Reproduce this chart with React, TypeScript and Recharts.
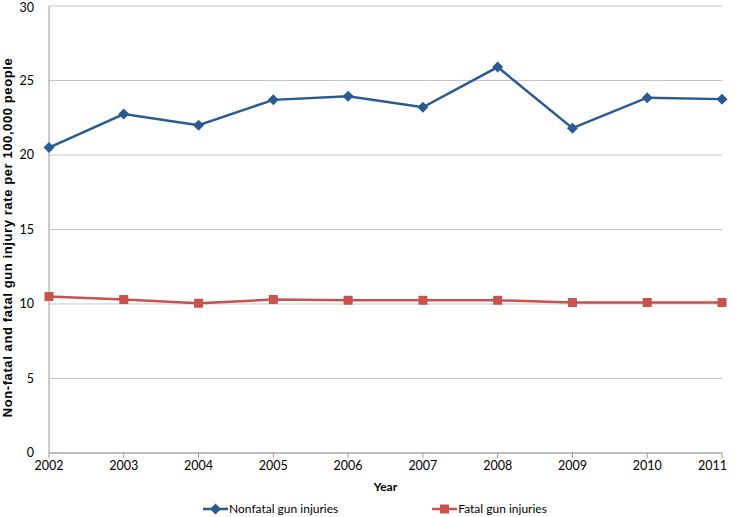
import { LineChart, Line, XAxis, YAxis, CartesianGrid, Legend } from "recharts";

const years = ["2002", "2003", "2004", "2005", "2006", "2007", "2008", "2009", "2010", "2011"];
const nonfatal = [20.5, 22.75, 22.0, 23.7, 23.95, 23.2, 25.9, 21.8, 23.85, 23.75];
const fatal = [10.5, 10.3, 10.05, 10.3, 10.25, 10.25, 10.25, 10.1, 10.1, 10.1];
const yTicks = [0, 5, 10, 15, 20, 25, 30];

const data = years.map((year, i) => ({ year, nonfatal: nonfatal[i], fatal: fatal[i] }));

const BLUE = "#2B5A90";
const RED = "#C9524F";
const FONT = "Lato, 'Liberation Sans', sans-serif";

const Diamond = (props: any) => {
  const { cx, cy, index } = props;
  if (cx == null || cy == null) return null;
  const r = 5.5;
  return (
    <polygon
      key={`d-${index}`}
      points={`${cx},${cy - r} ${cx + r},${cy} ${cx},${cy + r} ${cx - r},${cy}`}
      fill={BLUE}
    />
  );
};

const Square = (props: any) => {
  const { cx, cy, index } = props;
  if (cx == null || cy == null) return null;
  const s = 4.5;
  return <rect key={`s-${index}`} x={cx - s} y={cy - s} width={s * 2} height={s * 2} fill={RED} />;
};

const XTick = (props: any) => {
  const { x, y, payload, index } = props;
  const last = index === years.length - 1;
  return (
    <text
      x={last ? x + 5 : x}
      y={y + 10}
      textAnchor={last ? "end" : "middle"}
      fontFamily={FONT}
      fontSize={12.5}
      fill="#000"
    >
      {payload.value}
    </text>
  );
};

const LegendContent = () => (
  <div
    style={{
      display: "flex",
      fontFamily: FONT,
      fontSize: 12,
      lineHeight: "12px",
      color: "#000",
      paddingTop: 10,
    }}
  >
    <div style={{ display: "flex", alignItems: "center", marginLeft: 203 }}>
      <svg width={26} height={12}>
        <line x1={0} y1={6} x2={25} y2={6} stroke={BLUE} strokeWidth={2.5} />
        <polygon points="12.5,0.5 18,6 12.5,11.5 7,6" fill={BLUE} />
      </svg>
      <span>Nonfatal gun injuries</span>
    </div>
    <div style={{ display: "flex", alignItems: "center", marginLeft: 94 }}>
      <svg width={26} height={12}>
        <line x1={0} y1={6} x2={25} y2={6} stroke={RED} strokeWidth={2.5} />
        <rect x={8} y={1.5} width={9} height={9} fill={RED} />
      </svg>
      <span>Fatal gun injuries</span>
    </div>
  </div>
);

const YLabel = (props: any) => {
  const vb = props.viewBox || {};
  const cy = (vb.y ?? 0) + (vb.height ?? 0) / 2 + 8;
  const x = 12;
  return (
    <text
      x={x}
      y={cy}
      transform={`rotate(-90 ${x} ${cy})`}
      textAnchor="middle"
      fontFamily="'Liberation Sans', Arial, sans-serif"
      fontWeight="bold"
      fontSize={13}
      letterSpacing={0.6}
      fill="#000"
    >
      Non-fatal and fatal gun injury rate per 100,000 people
    </text>
  );
};

export default function App() {
  return (
    <div style={{ position: "absolute", left: 0, top: 0, background: "#fff" }}>
      <LineChart width={734} height={517} data={data} margin={{ top: 6, right: 12, bottom: 0, left: 0 }}>
        <CartesianGrid vertical={false} stroke="#C6C6C6" strokeWidth={1} />
        <XAxis
          dataKey="year"
          height={40}
          stroke="#9A9A9A"
          tickSize={5}
          tick={<XTick />}
          interval={0}
          label={{
            value: "Year",
            position: "insideBottom",
            offset: 2,
            fontFamily: FONT,
            fontWeight: "bold",
            fontSize: 12,
            fill: "#000",
          }}
        />
        <YAxis
          width={49}
          domain={[0, 30]}
          ticks={yTicks}
          stroke="#9A9A9A"
          tickLine={false}
          tickMargin={9}
          tick={{ fill: "#000", fontSize: 12.5, fontFamily: FONT }}
          label={<YLabel />}
        />
        <Legend verticalAlign="bottom" height={24} content={<LegendContent />} />
        <Line
          dataKey="nonfatal"
          stroke={BLUE}
          strokeWidth={2.5}
          dot={<Diamond />}
          activeDot={false}
          isAnimationActive={false}
        />
        <Line
          dataKey="fatal"
          stroke={RED}
          strokeWidth={2.5}
          dot={<Square />}
          activeDot={false}
          isAnimationActive={false}
        />
      </LineChart>
    </div>
  );
}
